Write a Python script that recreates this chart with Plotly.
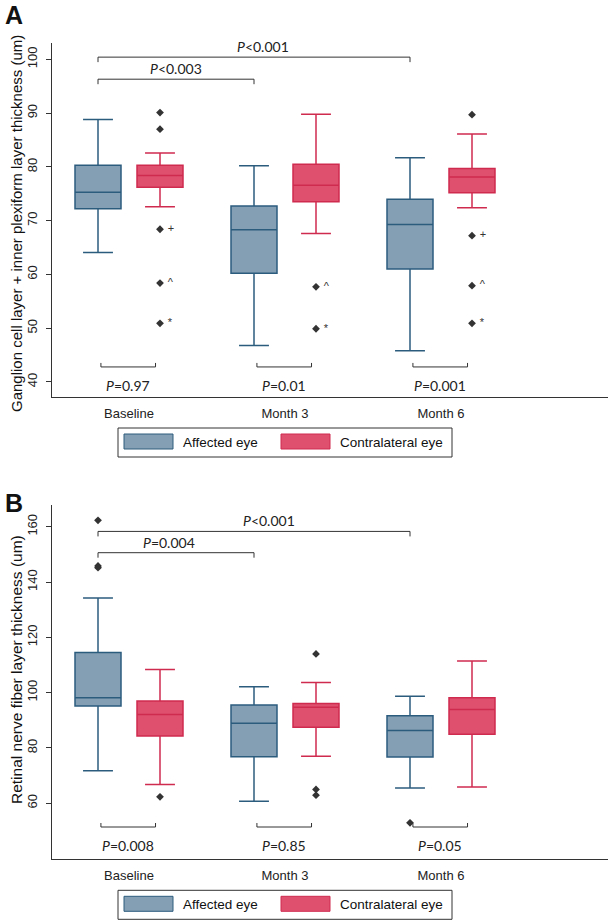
import plotly.graph_objects as go

W, H = 608, 923

groups = ["Baseline", "Month 3", "Month 6"]

# Panel A: ganglion cell layer + inner plexiform layer thickness (um)
a_aff_low = [64.1, 46.8, 45.8]
a_aff_q1 = [72.2, 60.2, 61.0]
a_aff_med = [75.3, 68.3, 69.3]
a_aff_q3 = [80.3, 72.7, 74.0]
a_aff_high = [88.8, 80.2, 81.7]
a_aff_out_grp = []
a_aff_out_val = []
a_aff_out_tag = []

a_con_low = [72.6, 67.6, 72.4]
a_con_q1 = [76.2, 73.5, 75.2]
a_con_med = [78.4, 76.6, 78.1]
a_con_q3 = [80.3, 80.5, 79.7]
a_con_high = [82.6, 89.8, 86.1]
a_con_out_grp = [0, 0, 0, 0, 0, 1, 1, 2, 2, 2, 2]
a_con_out_val = [90.1, 87.0, 68.4, 58.4, 50.9, 57.7, 49.9, 89.7, 67.2, 57.9, 50.9]
a_con_out_tag = ["", "", "+", "^", "*", "^", "*", "", "+", "^", "*"]

a_p_between = ["=0.97", "=0.01", "=0.001"]   # affected vs contralateral
a_p_time = ["<0.003", "<0.001"]              # affected: baseline vs month 3 / month 6

# Panel B: retinal nerve fiber layer thickness (um)
b_aff_low = [71.7, 60.7, 65.5]
b_aff_q1 = [95.2, 76.8, 76.7]
b_aff_med = [98.1, 88.9, 86.3]
b_aff_q3 = [114.5, 95.5, 91.6]
b_aff_high = [134.2, 102.1, 98.7]
b_aff_out_grp = [0, 0, 0, 2]
b_aff_out_val = [162.3, 145.8, 145.2, 52.9]
b_aff_out_tag = ["", "", "", ""]

b_con_low = [66.8, 77.0, 65.9]
b_con_q1 = [84.3, 87.5, 84.9]
b_con_med = [92.1, 94.7, 93.9]
b_con_q3 = [97.0, 96.1, 98.1]
b_con_high = [108.4, 103.7, 111.4]
b_con_out_grp = [0, 1, 1, 1]
b_con_out_val = [62.3, 114.0, 65.0, 62.9]
b_con_out_tag = ["", "", "", ""]

b_p_between = ["=0.008", "=0.85", "=0.05"]
b_p_time = ["=0.004", "<0.001"]

AFF_FILL, AFF_LINE = "#849FB4", "#2C5C7D"
CON_FILL, CON_LINE = "#DE506E", "#CF2B4F"
OUT_COLOR = "#333333"
AXIS_COLOR = "#333333"
FONT = "Liberation Sans"
PFONT = "Lato"

# layout in pixels
X_LEFT = 52
GROUP0_PX, GROUP_STEP = 129, 156
OFF = 31 / GROUP_STEP
BOX_W = 46 / GROUP_STEP
x_range = [(X_LEFT - GROUP0_PX) / GROUP_STEP, (W - GROUP0_PX) / GROUP_STEP]

panels = [
    dict(top=43, bottom=397, rng=[37.21, 103.03], ticks=[40, 50, 60, 70, 80, 90, 100],
         title="Ganglion cell layer + inner plexiform layer thickness (um)", title_y=224, title_size=15,
         letter="A", letter_y=15, time_levels=[96.3, 100.4], time_shift=[0, 9], base_level=42.8,
         aff=(a_aff_low, a_aff_q1, a_aff_med, a_aff_q3, a_aff_high),
         con=(a_con_low, a_con_q1, a_con_med, a_con_q3, a_con_high),
         aff_out=(a_aff_out_grp, a_aff_out_val, a_aff_out_tag),
         con_out=(a_con_out_grp, a_con_out_val, a_con_out_tag),
         p_between=a_p_between, p_time=a_p_time),
    dict(top=505, bottom=859.3, rng=[39.72, 167.85], ticks=[60, 80, 100, 120, 140, 160],
         title="Retinal nerve fiber layer thickness (um)", title_y=670, title_size=15.5,
         letter="B", letter_y=503, time_levels=[150.6, 158.3], time_shift=[-7, 15], base_level=51.4,
         aff=(b_aff_low, b_aff_q1, b_aff_med, b_aff_q3, b_aff_high),
         con=(b_con_low, b_con_q1, b_con_med, b_con_q3, b_con_high),
         aff_out=(b_aff_out_grp, b_aff_out_val, b_aff_out_tag),
         con_out=(b_con_out_grp, b_con_out_val, b_con_out_tag),
         p_between=b_p_between, p_time=b_p_time),
]

fig = go.Figure()
shapes, annotations = [], []


def px_x(px):
    return px / W


def px_y(py):
    return 1 - py / H


for i, p in enumerate(panels):
    n = "" if i == 0 else str(i + 1)
    xa, ya = "x" + n, "y" + n
    units_per_px = (p["rng"][1] - p["rng"][0]) / (p["bottom"] - p["top"])
    tick = 5 * units_per_px

    for stats, offset, fill, line in [(p["aff"], -OFF, AFF_FILL, AFF_LINE),
                                      (p["con"], OFF, CON_FILL, CON_LINE)]:
        low, q1, med, q3, high = stats
        fig.add_trace(go.Box(
            x=[g + offset for g in range(len(groups))],
            lowerfence=low, q1=q1, median=med, q3=q3, upperfence=high,
            width=BOX_W, whiskerwidth=0.65,
            fillcolor=fill, line=dict(color=line, width=1.5),
            boxpoints=False, showlegend=False, xaxis=xa, yaxis=ya,
        ))

    for (grp, val, tag), offset in [(p["aff_out"], -OFF), (p["con_out"], OFF)]:
        if not grp:
            continue
        fig.add_trace(go.Scatter(
            x=[g + offset for g in grp], y=val, text=[" " + t for t in tag],
            mode="markers+text", textposition="middle right",
            textfont=dict(family=FONT, size=11, color=OUT_COLOR),
            marker=dict(symbol="diamond", size=6, color=OUT_COLOR),
            showlegend=False, xaxis=xa, yaxis=ya,
        ))

    # brackets across time (affected eye)
    for k, (lvl, ptxt, sh) in enumerate(zip(p["time_levels"], p["p_time"], p["time_shift"])):
        x0, x1 = -OFF, (k + 1) - OFF
        for seg in [(x0, lvl, x1, lvl), (x0, lvl, x0, lvl - tick), (x1, lvl, x1, lvl - tick)]:
            shapes.append(dict(type="line", xref=xa, yref=ya, x0=seg[0], y0=seg[1], x1=seg[2], y1=seg[3],
                               line=dict(color=AXIS_COLOR, width=1)))
        annotations.append(dict(xref=xa, yref=ya, x=(x0 + x1) / 2, y=lvl, xshift=sh,
                                text="<i>P</i>" + ptxt, showarrow=False,
                                xanchor="center", yanchor="bottom",
                                font=dict(family=PFONT, size=14, color="#222")))

    # brackets affected vs contralateral
    lvl = p["base_level"]
    for g, ptxt in enumerate(p["p_between"]):
        x0, x1 = g - 0.18, g + 0.17
        for seg in [(x0, lvl, x1, lvl), (x0, lvl, x0, lvl + tick * 0.8), (x1, lvl, x1, lvl + tick * 0.8)]:
            shapes.append(dict(type="line", xref=xa, yref=ya, x0=seg[0], y0=seg[1], x1=seg[2], y1=seg[3],
                               line=dict(color=AXIS_COLOR, width=1)))
        annotations.append(dict(xref=xa, yref=ya, x=(x0 + x1) / 2, y=lvl, yshift=-8,
                                text="<i>P</i>" + ptxt, showarrow=False,
                                xanchor="center", yanchor="top",
                                font=dict(family=PFONT, size=14, color="#222")))

    dom_y = [px_y(p["bottom"]), px_y(p["top"])]
    fig.layout["xaxis" + n] = dict(
        domain=[px_x(X_LEFT), 1], range=x_range, anchor=ya,
        tickvals=list(range(len(groups))), ticktext=groups,
        ticks="", ticklabelstandoff=4,
        showline=True, linecolor=AXIS_COLOR, linewidth=1,
        showgrid=False, zeroline=False,
        tickfont=dict(family=FONT, size=13, color="#222"),
    )
    fig.layout["yaxis" + n] = dict(
        domain=dom_y, range=p["rng"], anchor=xa,
        tickvals=p["ticks"], tickangle=-90,
        ticks="outside", ticklen=5, tickcolor=AXIS_COLOR,
        ticklabelstandoff=4,
        showline=True, linecolor=AXIS_COLOR, linewidth=1,
        showgrid=False, zeroline=False,
        tickfont=dict(family=FONT, size=13, color="#222"),
    )

    annotations.append(dict(xref="paper", yref="paper", x=px_x(16), y=px_y(p["title_y"]),
                            xanchor="center", yanchor="middle",
                            text=p["title"], textangle=-90, showarrow=False,
                            font=dict(family=FONT, size=p["title_size"], color="#111")))
    annotations.append(dict(xref="paper", yref="paper", x=px_x(14), y=px_y(p["letter_y"]),
                            xanchor="center", yanchor="middle",
                            text="<b>" + p["letter"] + "</b>", showarrow=False,
                            font=dict(family=FONT, size=25, color="#111")))

    # legend box
    lt = p["bottom"] + 31
    shapes.append(dict(type="rect", xref="paper", yref="paper",
                       x0=px_x(118), x1=px_x(452), y0=px_y(lt), y1=px_y(lt + 29),
                       line=dict(color=AXIS_COLOR, width=1), fillcolor="white"))
    for sx, fill, line, label in [(124, AFF_FILL, AFF_LINE, "Affected eye"),
                                  (281, CON_FILL, CON_LINE, "Contralateral eye")]:
        shapes.append(dict(type="rect", xref="paper", yref="paper",
                           x0=px_x(sx), x1=px_x(sx + 49), y0=px_y(lt + 6), y1=px_y(lt + 21),
                           line=dict(color=line, width=1), fillcolor=fill))
        annotations.append(dict(xref="paper", yref="paper", x=px_x(sx + 57), y=px_y(lt + 14),
                                xanchor="left", yanchor="middle", text=label, showarrow=False,
                                font=dict(family=FONT, size=13.5, color="#111")))

fig.update_layout(
    width=W, height=H,
    margin=dict(l=0, r=0, t=0, b=0),
    paper_bgcolor="white", plot_bgcolor="white",
    showlegend=False,
    shapes=shapes, annotations=annotations,
)

# the page body has a default 8px margin; remove it so the figure fills the window
fig.write_html("out.html", config={"displayModeBar": False},
               post_script="document.body.style.margin='0';")
